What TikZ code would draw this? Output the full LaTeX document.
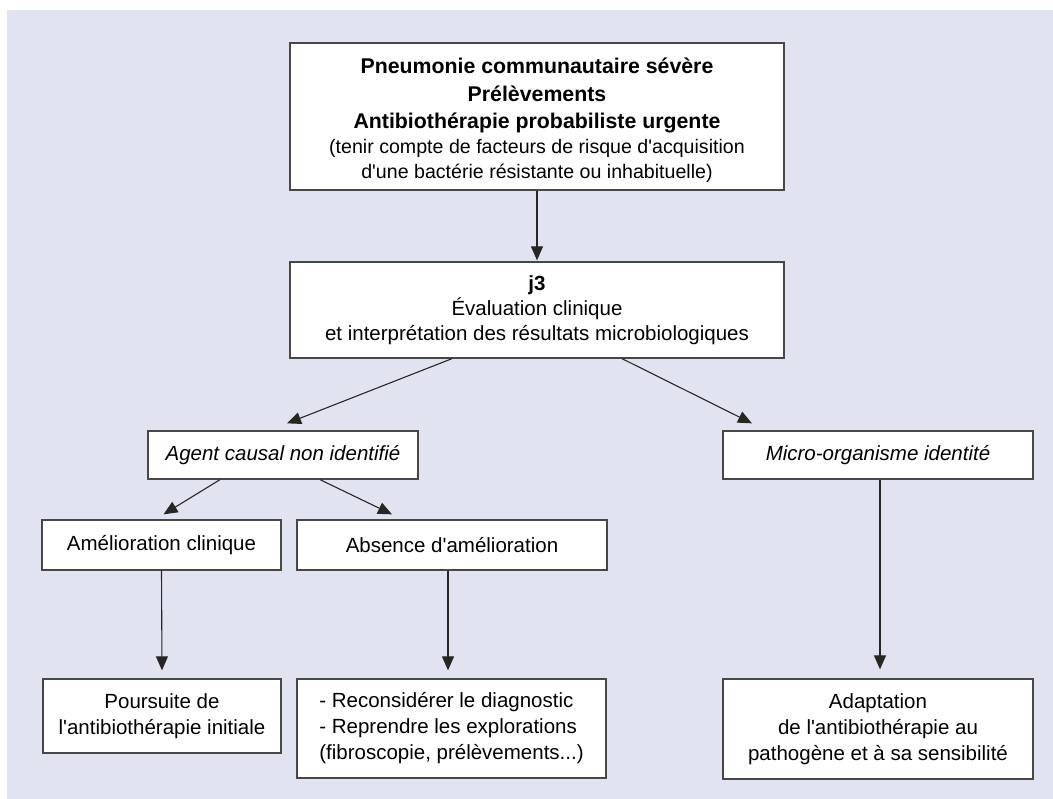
\documentclass[tikz,border=0pt]{standalone}
\usepackage{fontspec}
\setmainfont{Liberation Sans}[Ligatures=TeXOff]
\usetikzlibrary{arrows.meta}
\definecolor{bgc}{RGB}{226,227,240}
\begin{document}
\begin{tikzpicture}[x=1pt,y=-1pt,
  box/.style={draw=black!72, line width=1.3pt, fill=white, align=center, inner sep=0pt,
    font=\fontsize{20.5}{25}\selectfont},
  arr/.style={line width=1.1pt, draw=black!85, -{Triangle[length=14pt,width=12pt]}}]
\useasboundingbox (0,0) rectangle (1053,799);
\fill[white] (0,0) rectangle (1053,799);
\fill[bgc] (7,10) rectangle (1053,799);

\node[box, minimum width=494pt, minimum height=147pt] (b1) at (537,116.5)
  {\rule{0pt}{24pt}\bfseries\fontsize{21.3}{25}\selectfont Pneumonie communautaire sévère\\[2.5pt]
   \bfseries\fontsize{21.3}{25}\selectfont Prélèvements\\[2.5pt]
   \bfseries\fontsize{21.3}{25}\selectfont Antibiothérapie probabiliste urgente\\
   \fontsize{19.6}{22.5}\selectfont (tenir compte de facteurs de risque d'acquisition\\
   \fontsize{19.6}{22.5}\selectfont d'une bactérie résistante ou inhabituelle)};

\node[box, minimum width=494pt, minimum height=96pt] (b2) at (537,310)
  {\textbf{j3}\\ Évaluation clinique\\ et interprétation des résultats microbiologiques};

\node[box, minimum width=270pt, minimum height=48pt, font=\fontsize{20.5}{25}\selectfont\itshape] (agent) at (283,455) {Agent causal non identifié};
\node[box, minimum width=310pt, minimum height=48pt, font=\fontsize{20.5}{25}\selectfont\itshape] (micro) at (878,455) {Micro-organisme identité};

\node[box, minimum width=239pt, minimum height=50pt] (amel) at (161.5,545) {Amélioration clinique};
\node[box, minimum width=310pt, minimum height=50pt] (abs) at (452,545) {Absence d'amélioration};

\node[box, minimum width=238pt, minimum height=74pt] (pours) at (162,716) {Poursuite de\\[1pt] l'antibiothérapie initiale};
\node[box, minimum width=309pt, minimum height=99pt, align=left] (recon) at (451.5,728.5)
  {- Reconsidérer le diagnostic\\[1pt] - Reprendre les explorations\\[1pt] (fibroscopie, prélèvements...)};
\node[box, minimum width=310pt, minimum height=100pt] (adapt) at (878,729)
  {Adaptation\\[1pt] de l'antibiothérapie au\\[1pt] pathogène et à sa sensibilité};

\draw[arr] (b1.south) -- ([yshift=1pt]b2.north);
\draw[arr] ([xshift=-85pt]b2.south) -- ([xshift=4pt,yshift=7pt]agent.north);
\draw[arr] ([xshift=85pt]b2.south) -- ([xshift=-126pt,yshift=7pt]micro.north);
\draw[arr] ([xshift=-63pt]agent.south) -- ([xshift=2pt,yshift=5pt]amel.north);
\draw[arr] ([xshift=37pt]agent.south) -- ([xshift=-60pt,yshift=5pt]abs.north);
\draw[arr] (amel.south) -- ([yshift=8pt]pours.north);
\draw[arr] ([xshift=-4pt]abs.south) -- ([xshift=-3.5pt,yshift=8pt]recon.north);
\draw[arr] ([xshift=2pt]micro.south) -- ([xshift=2pt,yshift=9pt]adapt.north);
\end{tikzpicture}
\end{document}
